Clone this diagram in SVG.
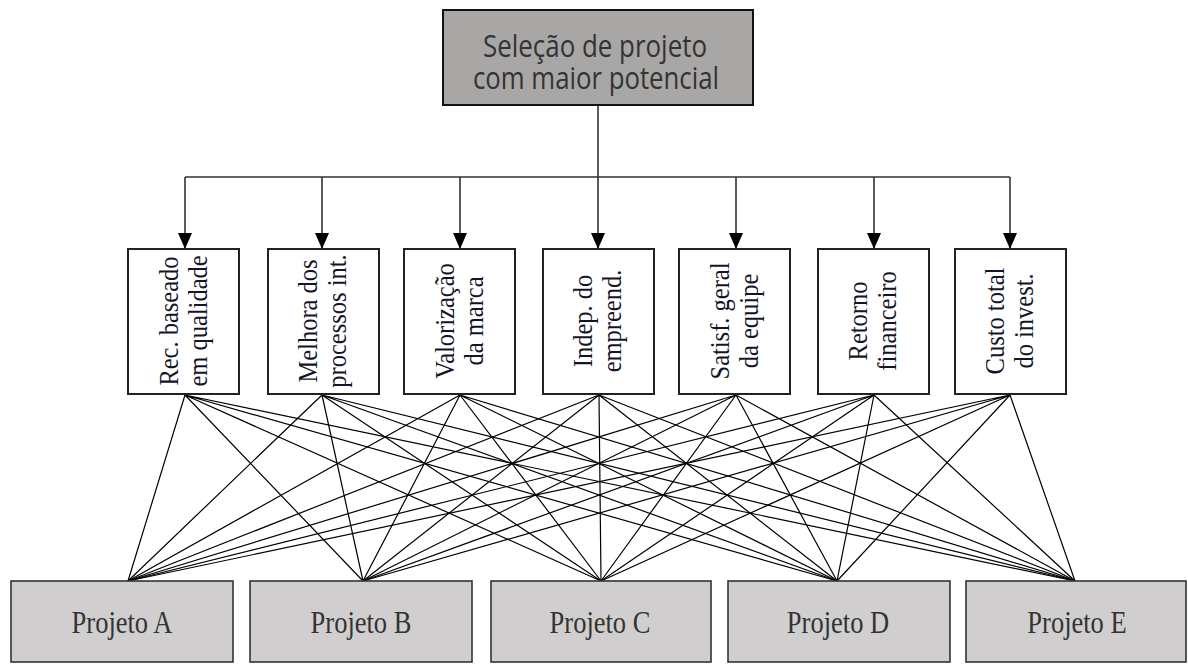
<svg xmlns="http://www.w3.org/2000/svg" width="1188" height="664" viewBox="0 0 1188 664">
<style>
.top{fill:#a9a6a6;stroke:#111;stroke-width:2}
.crit{fill:#fff;stroke:#222;stroke-width:2}
.proj{fill:#d0cece;stroke:#333;stroke-width:1.6}
.tt{font-family:"Open Sans","Noto Sans",sans-serif;font-size:26px;fill:#333;text-anchor:middle}
.ct{font-family:"Liberation Serif","Times New Roman",serif;font-size:24.5px;fill:#141428;text-anchor:middle}
.pt{font-family:"Liberation Serif","Times New Roman",serif;font-size:26.5px;fill:#333;text-anchor:middle}
.arr{stroke:#333;stroke-width:1.6;fill:none}
.ln{stroke:#000;stroke-width:1.2;fill:none}
</style>
<defs>
<marker id="ah" viewBox="0 0 16 14" refX="16" refY="7" markerWidth="16" markerHeight="14" markerUnits="userSpaceOnUse" orient="auto">
<path d="M0,0 L16,7 L0,14 Z" fill="#000"/>
</marker>
</defs>
<g id="connectors">
<path class="arr" d="M598,105 V177 M185,177 H1010"/>
<g class="arr">
<line x1="185" y1="177" x2="185" y2="249" marker-end="url(#ah)"/>
<line x1="322" y1="177" x2="322" y2="249" marker-end="url(#ah)"/>
<line x1="460" y1="177" x2="460" y2="249" marker-end="url(#ah)"/>
<line x1="598" y1="177" x2="598" y2="249" marker-end="url(#ah)"/>
<line x1="736" y1="177" x2="736" y2="249" marker-end="url(#ah)"/>
<line x1="874" y1="177" x2="874" y2="249" marker-end="url(#ah)"/>
<line x1="1010" y1="177" x2="1010" y2="249" marker-end="url(#ah)"/>
</g>
<g class="ln">
<path d="M185,395 L128,581 M185,395 L363,581 M185,395 L601,581 M185,395 L837,581 M185,395 L1075,581"/>
<path d="M322,395 L128,581 M322,395 L363,581 M322,395 L601,581 M322,395 L837,581 M322,395 L1075,581"/>
<path d="M460,395 L128,581 M460,395 L363,581 M460,395 L601,581 M460,395 L837,581 M460,395 L1075,581"/>
<path d="M599,395 L128,581 M599,395 L363,581 M599,395 L601,581 M599,395 L837,581 M599,395 L1075,581"/>
<path d="M736,395 L128,581 M736,395 L363,581 M736,395 L601,581 M736,395 L837,581 M736,395 L1075,581"/>
<path d="M874,395 L128,581 M874,395 L363,581 M874,395 L601,581 M874,395 L837,581 M874,395 L1075,581"/>
<path d="M1010,395 L128,581 M1010,395 L363,581 M1010,395 L601,581 M1010,395 L837,581 M1010,395 L1075,581"/>
</g>
</g>
<g id="goal">
<rect class="top" x="443" y="10" width="310" height="95"/>
<text class="tt" transform="translate(595,57) scale(1,1.18)" textLength="224" lengthAdjust="spacingAndGlyphs">Seleção de projeto</text>
<text class="tt" transform="translate(596,89) scale(1,1.18)" textLength="246" lengthAdjust="spacingAndGlyphs">com maior potencial</text>
</g>
<g id="c1">
<rect class="crit" x="128" y="249" width="111" height="145"/>
<g transform="translate(184,321) rotate(-90) scale(1,1.12)">
<text class="ct" x="0" y="-5.4">Rec. baseado</text>
<text class="ct" x="0" y="20.5">em qualidade</text>
</g>
</g>
<g id="c2">
<rect class="crit" x="268" y="249" width="111" height="145"/>
<g transform="translate(323,321) rotate(-90) scale(1,1.12)">
<text class="ct" x="0" y="-5.4">Melhora dos</text>
<text class="ct" x="0" y="20.5">processos int.</text>
</g>
</g>
<g id="c3">
<rect class="crit" x="404" y="249" width="111" height="145"/>
<g transform="translate(460,321) rotate(-90) scale(1,1.12)">
<text class="ct" x="0" y="-5.4">Valorização</text>
<text class="ct" x="0" y="20.5">da marca</text>
</g>
</g>
<g id="c4">
<rect class="crit" x="543" y="249" width="111" height="145"/>
<g transform="translate(598,321) rotate(-90) scale(1,1.12)">
<text class="ct" x="0" y="-5.4">Indep. do</text>
<text class="ct" x="0" y="20.5">empreend.</text>
</g>
</g>
<g id="c5">
<rect class="crit" x="679" y="249" width="111" height="145"/>
<g transform="translate(735,321) rotate(-90) scale(1,1.12)">
<text class="ct" x="0" y="-5.4">Satisf. geral</text>
<text class="ct" x="0" y="20.5">da equipe</text>
</g>
</g>
<g id="c6">
<rect class="crit" x="818" y="249" width="111" height="145"/>
<g transform="translate(873,321) rotate(-90) scale(1,1.12)">
<text class="ct" x="0" y="-5.4">Retorno</text>
<text class="ct" x="0" y="20.5">financeiro</text>
</g>
</g>
<g id="c7">
<rect class="crit" x="955" y="249" width="111" height="145"/>
<g transform="translate(1010,321) rotate(-90) scale(1,1.12)">
<text class="ct" x="0" y="-5.4">Custo total</text>
<text class="ct" x="0" y="20.5">do invest.</text>
</g>
</g>
<g id="pA">
<rect class="proj" x="11" y="581" width="222" height="81"/>
<text class="pt" transform="translate(122,633) scale(1,1.22)">Projeto A</text>
</g>
<g id="pB">
<rect class="proj" x="250" y="581" width="222" height="81"/>
<text class="pt" transform="translate(361,633) scale(1,1.22)">Projeto B</text>
</g>
<g id="pC">
<rect class="proj" x="491" y="581" width="220" height="81"/>
<text class="pt" transform="translate(600,633) scale(1,1.22)">Projeto C</text>
</g>
<g id="pD">
<rect class="proj" x="728" y="581" width="222" height="81"/>
<text class="pt" transform="translate(838,633) scale(1,1.22)">Projeto D</text>
</g>
<g id="pE">
<rect class="proj" x="966" y="581" width="220" height="81"/>
<text class="pt" transform="translate(1077,633) scale(1,1.22)">Projeto E</text>
</g>
</svg>
